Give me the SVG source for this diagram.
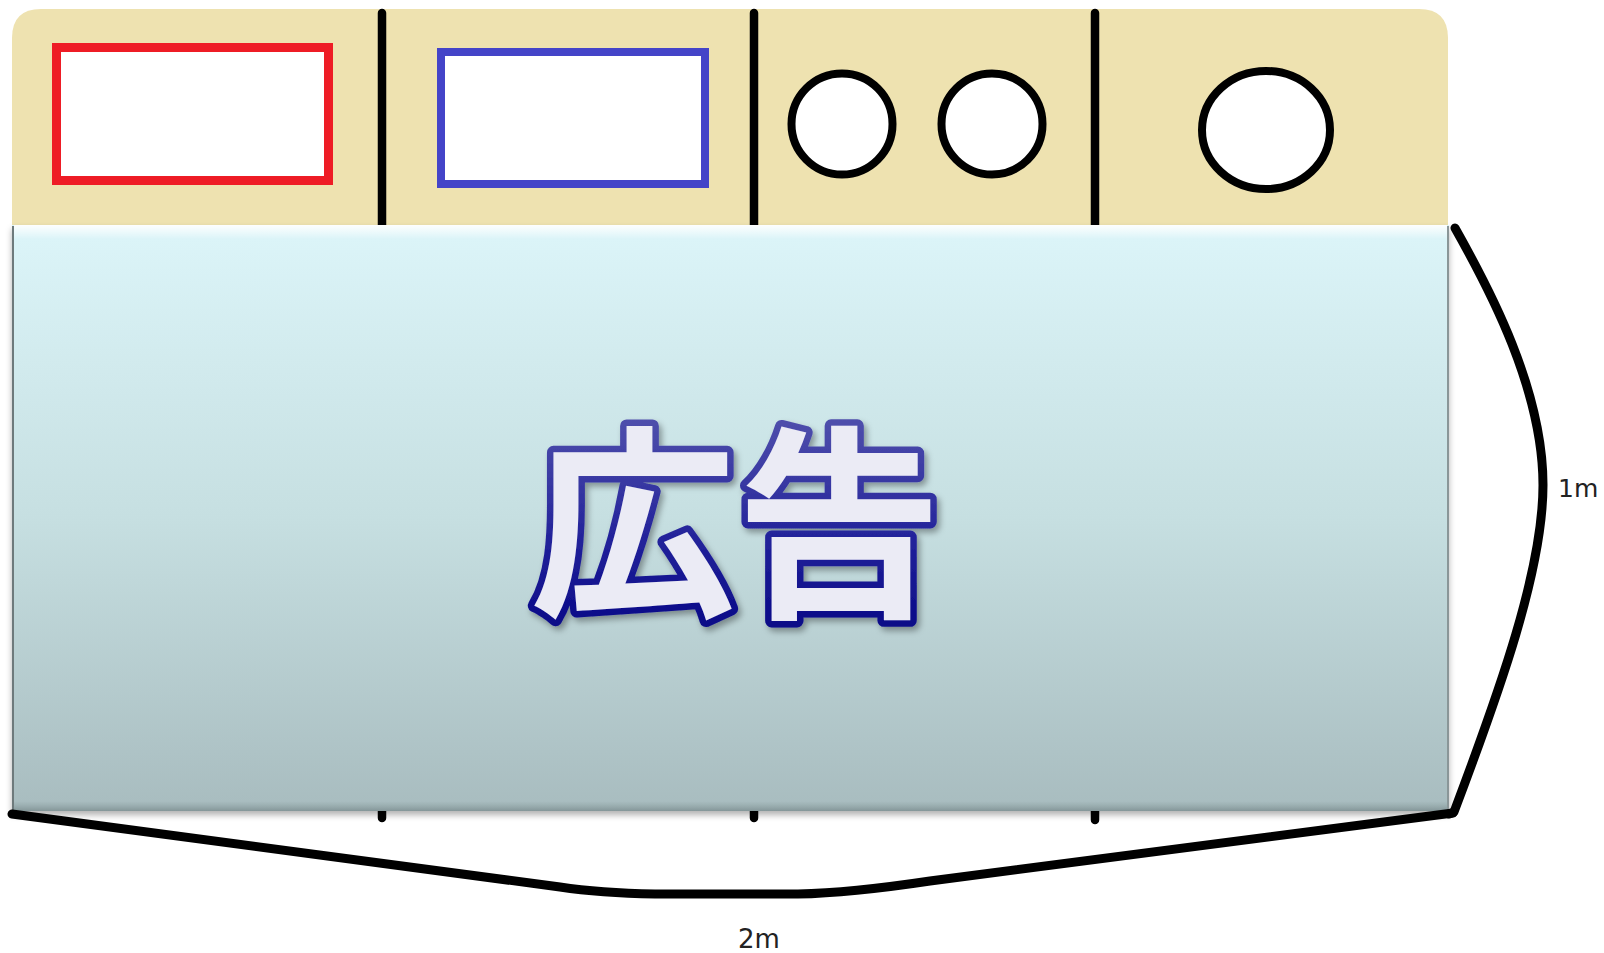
<svg xmlns="http://www.w3.org/2000/svg" width="1604" height="953" viewBox="0 0 1604 953">
  <defs>
    <linearGradient id="panelGrad" x1="0" y1="0" x2="0" y2="1">
      <stop offset="0" stop-color="#dcf5f9"/>
      <stop offset="0.5" stop-color="#c6dfe1"/>
      <stop offset="1" stop-color="#a8bcbf"/>
    </linearGradient>
    <linearGradient id="topHi" x1="0" y1="0" x2="0" y2="1">
      <stop offset="0" stop-color="#ffffff" stop-opacity="0.95"/>
      <stop offset="1" stop-color="#ffffff" stop-opacity="0"/>
    </linearGradient>
    <linearGradient id="botDark" x1="0" y1="0" x2="0" y2="1">
      <stop offset="0" stop-color="#8a9c9e" stop-opacity="0"/>
      <stop offset="1" stop-color="#7a8c8e" stop-opacity="0.8"/>
    </linearGradient>
    <linearGradient id="textStroke" x1="0" y1="0" x2="0" y2="1">
      <stop offset="0" stop-color="#6464b4"/>
      <stop offset="0.6" stop-color="#22229a"/>
      <stop offset="1" stop-color="#000080"/>
    </linearGradient>
    <filter id="panelShadow" x="-5%" y="-5%" width="110%" height="115%">
      <feDropShadow dx="0" dy="4" stdDeviation="3" flood-color="#000" flood-opacity="0.3"/>
    </filter>
    <filter id="textShadow" x="-10%" y="-10%" width="120%" height="130%">
      <feDropShadow dx="3" dy="4" stdDeviation="3" flood-color="#000" flood-opacity="0.35"/>
    </filter>
  </defs>
  <style>
    .divider { stroke: #000; stroke-width: 8.5; stroke-linecap: round; fill: none; }
    .slot-circle { fill: #fff; stroke: #000; stroke-width: 8; }
    .dim { fill: none; stroke: #000; stroke-width: 9; stroke-linejoin: round; stroke-linecap: round; }
    .dim-label { font-family: "DejaVu Sans", "Liberation Sans", sans-serif; fill: #222; }
    .ad-text { font-family: "Noto Sans CJK JP", "Noto Sans CJK SC", sans-serif; font-weight: 700; font-size: 206px; fill: #ebebf5; stroke: url(#textStroke); stroke-width: 13; stroke-linejoin: round; paint-order: stroke; }
  </style>

  <rect width="1604" height="953" fill="#ffffff"/>

  <g id="header">
    <path d="M12,225 L12,38 Q12,9 41,9 L1419,9 Q1448,9 1448,38 L1448,225 Z" fill="#eee2b0"/>
  </g>

  <g id="dividers">
    <line class="divider" x1="382" y1="13" x2="382" y2="818"/>
    <line class="divider" x1="754" y1="13" x2="754" y2="818"/>
    <line class="divider" x1="1095" y1="13" x2="1095" y2="820"/>
  </g>

  <g id="slot-red">
    <rect x="56.5" y="47.5" width="272" height="133" fill="#ffffff" stroke="#ee1c25" stroke-width="9"/>
  </g>
  <g id="slot-blue">
    <rect x="441" y="52" width="264" height="132" fill="#ffffff" stroke="#4444c8" stroke-width="8"/>
  </g>
  <g id="slot-circle-1">
    <circle class="slot-circle" cx="842" cy="124" r="50.5"/>
  </g>
  <g id="slot-circle-2">
    <circle class="slot-circle" cx="992" cy="124" r="50.5"/>
  </g>
  <g id="slot-circle-3">
    <ellipse class="slot-circle" cx="1266" cy="130" rx="64" ry="59"/>
  </g>

  <g id="ad-panel">
    <rect x="12" y="225" width="1437" height="586" fill="url(#panelGrad)" filter="url(#panelShadow)"/>
    <rect x="14" y="225" width="1433" height="14" fill="url(#topHi)"/>
    <rect x="14" y="801" width="1433" height="10" fill="url(#botDark)"/>
    <line x1="13" y1="226" x2="13" y2="811" stroke="#6e7a7c" stroke-width="2"/>
    <line x1="1448" y1="226" x2="1448" y2="811" stroke="#8a9698" stroke-width="2"/>
    <text class="ad-text" x="736" y="601" text-anchor="middle" filter="url(#textShadow)">広告</text>
  </g>

  <g id="dimensions">
    <path class="dim" d="M1455,228 C1490,290 1543,390 1543,485 C1543,570 1500,690 1454,812 L1449,814"/>
    <path class="dim" d="M12,814 L560,887 Q600,893 655,894 L798,894 Q850,893 930,881 L1453,813"/>
  </g>

  <g id="labels">
    <text class="dim-label" x="1558" y="497" font-size="25">1m</text>
    <text class="dim-label" x="759" y="948" font-size="26" text-anchor="middle">2m</text>
  </g>
</svg>
